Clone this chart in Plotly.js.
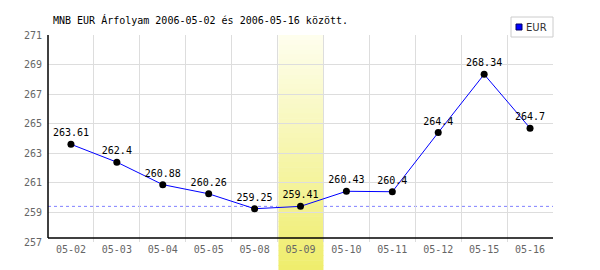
<!DOCTYPE html>
<html>
<head>
<meta charset="utf-8">
<script src="https://cdn.plot.ly/plotly-3.0.1.min.js"></script>
<style>html,body{margin:0;padding:0;background:#fff}#chart{width:600px;height:270px}</style>
</head>
<body>
<div id="chart"></div>
<script>
var titleText = "MNB EUR Árfolyam 2006-05-02 és 2006-05-16 között.";
var seriesName = "EUR";
var categories = ["05-02","05-03","05-04","05-05","05-08","05-09","05-10","05-11","05-12","05-15","05-16"];
var rates = [263.61, 262.4, 260.88, 260.26, 259.25, 259.41, 260.43, 260.4, 264.4, 268.34, 264.7];
var valueLabels = ["263.61","262.4","260.88","260.26","259.25","259.41","260.43","260.4","264.4","268.34","264.7"];
var yTicks = [257, 259, 261, 263, 265, 267, 269, 271];
var highlightCategory = "05-09";

var hi = categories.indexOf(highlightCategory);
var nCat = categories.length;
var mono = "DejaVu Sans Mono, Liberation Mono, monospace";

var trace = {
  x: categories, y: rates, text: valueLabels,
  type: "scatter", mode: "lines+markers+text",
  textposition: "top center",
  textfont: {family: mono, size: 10, color: "#000"},
  line: {color: "#0000ff", width: 1},
  marker: {color: "#000", size: 7},
  cliponaxis: false,
  showlegend: false, hoverinfo: "skip"
};

var shapes = [];
// dashed reference line at highlighted day's value
shapes.push({type: "line", xref: "paper", yref: "y", x0: 0, x1: 1, y0: rates[hi], y1: rates[hi],
  line: {color: "#8080ff", width: 1, dash: "3px,3px"}, layer: "below"});
// gradient highlight band
var nStrips = 48, bandTop = 1.0, bandBottom = -28/207;
var c0 = [254,254,238], c1 = [239,237,108];
var bx0 = (hi + 0.02) / nCat, bx1 = (hi + 1) / nCat;
for (var i = 0; i < nStrips; i++) {
  var t = (i + 0.5) / nStrips;
  var col = "rgb(" + c0.map(function(v, k){return Math.round(v + (c1[k]-v)*t);}).join(",") + ")";
  var ya = bandTop - (bandTop - bandBottom) * i / nStrips, yb = bandTop - (bandTop - bandBottom) * (i + 1) / nStrips;
  shapes.push({type: "rect", xref: "paper", yref: "paper", x0: bx0, x1: bx1, y0: yb - 0.003, y1: ya,
    fillcolor: col, line: {width: 0}, layer: "below"});
}
// axis lines
shapes.push({type: "line", xref: "paper", yref: "paper", x0: 0, x1: 1, y0: 4/207, y1: 4/207, line: {color: "#000", width: 1.5}, layer: "above"});
shapes.push({type: "line", xref: "paper", yref: "paper", x0: 0, x1: 0, y0: 4/207, y1: 1, line: {color: "#000", width: 1.5}, layer: "above"});
// legend box
shapes.push({type: "rect", xref: "paper", yref: "paper", x0: 463/505, x1: 1.0, y0: 205/207, y1: 225/207,
  fillcolor: "#fff", line: {color: "#cccccc", width: 1}, layer: "above"});
shapes.push({type: "rect", xref: "paper", yref: "paper", x0: 468/505, x1: 474/505, y0: 212/207, y1: 218/207,
  fillcolor: "#0000ff", line: {color: "#000060", width: 1}, layer: "above"});

var layout = {
  width: 600, height: 270,
  margin: {l: 48, r: 47, t: 35, b: 28},
  paper_bgcolor: "#fff", plot_bgcolor: "rgba(0,0,0,0)",
  title: {text: titleText, font: {family: mono, size: 10, color: "#000"},
    x: 53/600, xanchor: "left", xref: "container", y: 1 - 20/270, yanchor: "middle", yref: "container"},
  xaxis: {type: "category", tickson: "boundaries", showgrid: true, gridcolor: "#dddddd", gridwidth: 1,
    ticks: "", showline: false, zeroline: false, range: [-0.5, nCat - 0.5],
    tickfont: {family: mono, size: 10, color: "#666"}, ticklabelstandoff: 0, fixedrange: true},
  yaxis: {range: [257, 271], tickvals: yTicks, ticktext: yTicks.map(String), showgrid: true, gridcolor: "#dddddd",
    ticks: "", showline: false, zeroline: false, ticklabelstandoff: 5,
    tickfont: {family: mono, size: 10, color: "#666"}, fixedrange: true},
  shapes: shapes,
  annotations: [{xref: "paper", yref: "paper", x: 476/505, y: 215/207, xanchor: "left", yanchor: "middle",
    text: seriesName, showarrow: false, font: {family: "DejaVu Sans, sans-serif", size: 10, color: "#333"}}],
  showlegend: false
};

Plotly.newPlot("chart", [trace], layout, {displayModeBar: false, staticPlot: true});
</script>
</body>
</html>
